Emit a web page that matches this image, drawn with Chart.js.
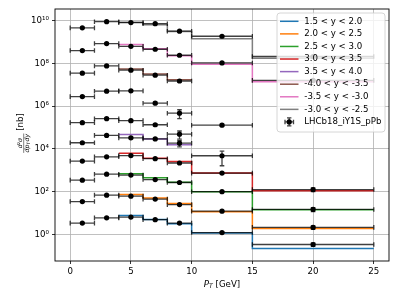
<!DOCTYPE html>
<html><head><meta charset="utf-8">
<script src="https://cdn.jsdelivr.net/npm/chart.js@4/dist/chart.umd.min.js"></script>
<style>html,body{margin:0;padding:0;background:#fff}canvas{display:block}</style>
</head><body>
<canvas id="c" width="399" height="299"></canvas>
<script>
// ---- data ----
const ptCenters    = [1, 3, 5, 7, 9, 12.5, 20];
const ptHalfWidths = [1, 1, 1, 1, 1, 2.5, 5];
const modelEdges   = [4, 6, 8, 10, 15, 25];
const xTicks = [0, 5, 10, 15, 20, 25];
const yTicks = [1, 1e2, 1e4, 1e6, 1e8, 1e10];

// model curves (pT bins 4-6, 6-8, 8-10, 10-15, 15-25)
const modelBlue   = [7.8, 5.0, 3.2, 1.17, 0.22];
const modelOrange = [74, 51, 28, 11.5, 1.9];
const modelGreen  = [690, 450, 280, 100, 14.5];
const modelRed    = [6.3e3, 3.7e3, 2.6e3, 740, 110];
const modelPurple = [4.7e4, 2.9e4, 1.55e4];
const modelBrown  = [5.5e7, 3.2e7, 1.74e7];
const modelPink   = [7.6e8, 4.8e8, 2.3e8, 9.1e7, 1.4e7];
const modelGray   = [8.3e9, 6.4e9, 3.1e9, 1.41e9, 1.75e8];

const modelLabels = ['1.5 < y < 2.0','2.0 < y < 2.5','2.5 < y < 3.0','3.0 < y < 3.5','3.5 < y < 4.0','-4.0 < y < -3.5','-3.5 < y < -3.0','-3.0 < y < -2.5'];
const modelColors = ['#1f77b4','#ff7f0e','#2ca02c','#d62728','#9467bd','#8c564b','#e377c2','#7f7f7f'];
const dataLabel = 'LHCb18_iY1S_pPb';

// measured points (pT centres 1,3,5,7,9,12.5,20) and their errors
const dataBlue    = [3.4, 6.0, 6.5, 4.9, 3.4, 1.23, 0.34];
const errBlue     = [0.2, 0.3, 0.3, 0.3, 0.25, 0.12, 0.06];
const dataOrange  = [34.7, 69, 62, 45, 25, 12.3, 2.14];
const errOrange   = [2, 3, 3, 2.5, 1.8, 0.9, 0.35];
const dataGreen   = [347, 660, 600, 370, 270, 100, 14.8];
const errGreen    = [18, 30, 28, 20, 18, 7, 3];
const dataRed     = [2.7e3, 4.3e3, 4.9e3, 3.5e3, 2.2e3, 740, 126];
const errRed      = [150, 200, 220, 180, 150, 50, 25];
const dataPurple  = [1.95e4, 4.3e4, 3.3e4, 2.95e4, 1.86e4, null, null];
const errPurple   = [1.5e3, 2.5e3, 2.2e3, 2.5e3, 6e3, null, null];
const dataBwd50   = [1.7e5, 2.6e5, 2.1e5, 1.35e5, 4.9e4, 4.8e3, null];
const errBwd50    = [1.5e4, 2e4, 1.8e4, 1.5e4, 2.0e4, 3.16e3, null];
const dataBwd45   = [2.8e6, 5.0e6, 5.2e6, 1.38e6, 4.7e5, 1.29e5, null];
const errBwd45    = [2e5, 3e5, 3e5, 1.5e5, 2.1e5, 1.5e4, null];
const dataBrown   = [3.5e7, 7.6e7, 4.8e7, 2.8e7, 1.5e7, null, null];
const errBrown    = [2.5e6, 4e6, 3e6, 2e6, 1.5e6, null, null];
const dataPink    = [4.0e8, 8.5e8, 6.3e8, 4.6e8, 2.4e8, 1.05e8, 1.6e7];
const errPink     = [2.5e7, 4e7, 3e7, 2.5e7, 1.5e7, 8e6, 1.5e6];
const dataGray    = [4.6e9, 8.9e9, 8.1e9, 7.2e9, 3.2e9, 1.86e9, 2.1e8];
const errGray     = [2.5e8, 4e8, 4e8, 3.5e8, 2e8, 1.2e8, 2e7];

const models = [modelBlue, modelOrange, modelGreen, modelRed, modelPurple, modelBrown, modelPink, modelGray];
const dataRows = [[dataBlue,errBlue],[dataOrange,errOrange],[dataGreen,errGreen],[dataRed,errRed],[dataPurple,errPurple],
                  [dataBwd50,errBwd50],[dataBwd45,errBwd45],[dataBrown,errBrown],[dataPink,errPink],[dataGray,errGray]];

// ---- build datasets ----
const datasets = [];
models.forEach((vals, k) => {
  const pts = [];
  vals.forEach((v, i) => { pts.push({x: modelEdges[i], y: v}); pts.push({x: modelEdges[i+1], y: v}); });
  datasets.push({type:'line', label: modelLabels[k], data: pts, borderColor: modelColors[k], borderWidth: 1.5,
    pointRadius: 0, fill: false, tension: 0, order: 2});
});
dataRows.forEach(([vals, errs]) => {
  const pts = [];
  vals.forEach((v, i) => { if (v !== null) pts.push({x: ptCenters[i], y: v, xe: ptHalfWidths[i], ye: errs[i]}); });
  datasets.push({type:'scatter', label: dataLabel, data: pts, isData: true, showLine: false,
    pointRadius: 2.6, pointBackgroundColor: '#000', pointBorderWidth: 0, order: 1});
});

const sup = {'0':'\u2070','1':'\u00b9','2':'\u00b2','3':'\u00b3','4':'\u2074','5':'\u2075','6':'\u2076','7':'\u2077','8':'\u2078','9':'\u2079','-':'\u207b'};
const FONT = 'DejaVu Sans';
const FS = 8.65;

const errPlugin = {
  id: 'errbars',
  beforeDatasetDraw(chart, args) {
    const ds = chart.data.datasets[args.index];
    if (!ds.isData) return;
    const xs = chart.scales.x, ys = chart.scales.y, ctx = chart.ctx;
    ctx.save();
    const a = chart.chartArea;
    ctx.beginPath(); ctx.rect(a.left, a.top, a.right - a.left, a.bottom - a.top); ctx.clip();
    ctx.strokeStyle = 'rgba(0,0,0,0.75)'; ctx.lineWidth = 1.3;
    const cap = 2.3;
    ds.data.forEach(p => {
      const px = xs.getPixelForValue(p.x), py = ys.getPixelForValue(p.y);
      const x1 = xs.getPixelForValue(p.x - p.xe), x2 = xs.getPixelForValue(p.x + p.xe);
      const y1 = ys.getPixelForValue(p.y + p.ye);
      const y2 = ys.getPixelForValue(Math.max(p.y - p.ye, 1e-3));
      ctx.beginPath();
      ctx.moveTo(x1, py); ctx.lineTo(x2, py);
      ctx.moveTo(x1, py - cap); ctx.lineTo(x1, py + cap);
      ctx.moveTo(x2, py - cap); ctx.lineTo(x2, py + cap);
      ctx.moveTo(px, y1); ctx.lineTo(px, y2);
      ctx.moveTo(px - cap, y1); ctx.lineTo(px + cap, y1);
      ctx.moveTo(px - cap, y2); ctx.lineTo(px + cap, y2);
      ctx.stroke();
    });
    ctx.restore();
  }
};

const decoPlugin = {
  id: 'deco',
  afterDraw(chart) {
    const ctx = chart.ctx, a = chart.chartArea;
    ctx.save();
    // spines
    ctx.strokeStyle = '#000'; ctx.lineWidth = 0.9;
    ctx.strokeRect(a.left, a.top, a.right - a.left, a.bottom - a.top);

    // legend
    const lx = 277, ly = 13, lw = 108, lh = 119, r = 3;
    ctx.beginPath();
    ctx.moveTo(lx + r, ly); ctx.lineTo(lx + lw - r, ly); ctx.quadraticCurveTo(lx + lw, ly, lx + lw, ly + r);
    ctx.lineTo(lx + lw, ly + lh - r); ctx.quadraticCurveTo(lx + lw, ly + lh, lx + lw - r, ly + lh);
    ctx.lineTo(lx + r, ly + lh); ctx.quadraticCurveTo(lx, ly + lh, lx, ly + lh - r);
    ctx.lineTo(lx, ly + r); ctx.quadraticCurveTo(lx, ly, lx + r, ly); ctx.closePath();
    ctx.fillStyle = 'rgba(255,255,255,0.8)'; ctx.fill();
    ctx.strokeStyle = '#cccccc'; ctx.lineWidth = 0.8; ctx.stroke();
    ctx.font = FS + 'px "' + FONT + '"'; ctx.textBaseline = 'middle'; ctx.textAlign = 'left';
    const rowH = 12.58;
    modelLabels.forEach((lab, i) => {
      const y = 21.3 + i * rowH;
      ctx.strokeStyle = modelColors[i]; ctx.lineWidth = 1.5;
      ctx.beginPath(); ctx.moveTo(280, y); ctx.lineTo(298.5, y); ctx.stroke();
      ctx.fillStyle = '#000'; ctx.fillText(lab, 304.3, y);
    });
    const yd = 21.3 + 8 * rowH;
    ctx.strokeStyle = 'rgba(0,0,0,0.75)'; ctx.lineWidth = 1.3;
    ctx.beginPath();
    ctx.moveTo(285, yd); ctx.lineTo(293.5, yd);
    ctx.moveTo(285, yd - 2.3); ctx.lineTo(285, yd + 2.3);
    ctx.moveTo(293.5, yd - 2.3); ctx.lineTo(293.5, yd + 2.3);
    ctx.moveTo(289.2, yd - 4); ctx.lineTo(289.2, yd + 4);
    ctx.moveTo(287, yd - 4); ctx.lineTo(291.4, yd - 4);
    ctx.moveTo(287, yd + 4); ctx.lineTo(291.4, yd + 4);
    ctx.stroke();
    ctx.fillStyle = '#000'; ctx.beginPath(); ctx.arc(289.2, yd, 2.6, 0, 2 * Math.PI); ctx.fill();
    ctx.fillText(dataLabel, 304.3, yd);

    // x-axis title: P_T [GeV]
    ctx.textBaseline = 'alphabetic';
    const it = 'italic ' + FS + 'px "' + FONT + '"', rg = FS + 'px "' + FONT + '"', sm = 'italic 6.1px "' + FONT + '"';
    ctx.font = it; const wP = ctx.measureText('P').width;
    ctx.font = sm; const wT = ctx.measureText('T').width;
    ctx.font = rg; const wG = ctx.measureText(' [GeV]').width;
    let x = (a.left + a.right) / 2 - (wP + wT + wG) / 2;
    const bl = 286.5;
    ctx.font = it; ctx.fillText('P', x, bl); x += wP;
    ctx.font = sm; ctx.fillText('T', x, bl + 1.8); x += wT;
    ctx.font = rg; ctx.fillText(' [GeV]', x, bl);

    // y-axis title: d²σ/(dp_T dy) [nb]
    ctx.translate(22.5, 133); ctx.rotate(-Math.PI / 2);
    const fi = 'italic 6.1px "' + FONT + '"', fs2 = 'italic 4.4px "' + FONT + '"';
    ctx.font = fi; const wNum = ctx.measureText('d\u00b2\u03c3').width;
    const wdp = ctx.measureText('dp').width, wdy = ctx.measureText('dy').width;
    ctx.font = fs2; const wsub = ctx.measureText('T').width;
    const wDen = wdp + wsub + wdy + 0.5;
    const wFr = Math.max(wNum, wDen) + 1;
    ctx.font = rg; const wNb = ctx.measureText(' [nb]').width;
    let xx = -(wFr + wNb) / 2;
    ctx.font = fi; ctx.textAlign = 'left';
    ctx.fillText('d\u00b2\u03c3', xx + (wFr - wNum) / 2, -0.3);
    ctx.strokeStyle = '#000'; ctx.lineWidth = 0.5;
    ctx.beginPath(); ctx.moveTo(xx, 1.2); ctx.lineTo(xx + wFr, 1.2); ctx.stroke();
    let dx = xx + (wFr - wDen) / 2;
    ctx.fillText('dp', dx, 6.3); dx += wdp;
    ctx.font = fs2; ctx.fillText('T', dx, 7.4); dx += wsub + 0.5;
    ctx.font = fi; ctx.fillText('dy', dx, 6.3);
    ctx.font = rg; ctx.fillText(' [nb]', xx + wFr, 0);
    ctx.restore();
  }
};

new Chart(document.getElementById('c'), {
  data: { datasets },
  options: {
    responsive: false, animation: false, devicePixelRatio: 1,
    layout: { padding: { left: 0, right: 10, top: 9, bottom: 0 } },
    plugins: { legend: { display: false }, tooltip: { enabled: false } },
    scales: {
      x: {
        type: 'linear', min: -1.25, max: 26.25,
        afterBuildTicks: s => { s.ticks = xTicks.map(v => ({ value: v })); },
        afterFit: s => { s.height = 38; },
        grid: { color: '#b0b0b0', lineWidth: 0.8, tickColor: '#000', tickLength: 3, tickWidth: 0.8 },
        border: { display: false },
        ticks: { font: { family: FONT, size: FS }, color: '#000', padding: 3, maxRotation: 0, autoSkip: false }
      },
      y: {
        type: 'logarithmic', min: 0.0575, max: 3.5e10,
        afterBuildTicks: s => { s.ticks = yTicks.map(v => ({ value: v })); },
        afterFit: s => { s.width = 55; },
        grid: { color: '#b0b0b0', lineWidth: 0.8, tickColor: '#000', tickLength: 3, tickWidth: 0.8 },
        border: { display: false },
        ticks: {
          font: { family: FONT, size: FS }, color: '#000', padding: 3, autoSkip: false,
          callback: v => '10' + String(Math.round(Math.log10(v))).split('').map(c => sup[c]).join('')
        }
      }
    }
  },
  plugins: [errPlugin, decoPlugin]
});
</script>
</body></html>
